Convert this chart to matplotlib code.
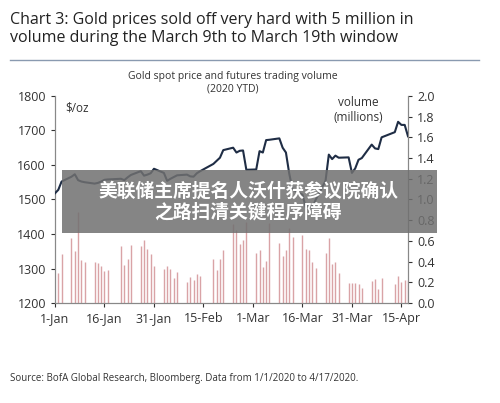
import matplotlib.pyplot as plt
import numpy as np
import pandas as pd

plt.rcParams['font.family'] = ['Open Sans', 'Noto Sans CJK SC', 'DejaVu Sans']

dates = ["01-02", "01-03", "01-06", "01-07", "01-08", "01-09", "01-10", "01-13", "01-14", "01-15",
         "01-16", "01-17", "01-21", "01-22", "01-23", "01-24", "01-27", "01-28", "01-29", "01-30",
         "01-31", "02-03", "02-04", "02-05", "02-06", "02-07", "02-10", "02-11", "02-12", "02-13",
         "02-14", "02-18", "02-19", "02-20", "02-21", "02-24", "02-25", "02-26", "02-27", "02-28",
         "03-02", "03-03", "03-04", "03-05", "03-06", "03-09", "03-10", "03-11", "03-12", "03-13",
         "03-16", "03-17", "03-18", "03-19", "03-20", "03-23", "03-24", "03-25", "03-26", "03-27",
         "03-30", "03-31", "04-01", "04-02", "04-03", "04-06", "04-07", "04-08", "04-09", "04-13",
         "04-14", "04-15", "04-16", "04-17"]
volume = [0.29, 0.47, 0.63, 0.50, 0.88, 0.42, 0.40, 0.40, 0.39, 0.36,
          0.31, 0.32, 0.55, 0.37, 0.43, 0.56, 0.55, 0.61, 0.52, 0.47,
          0.36, 0.33, 0.36, 0.33, 0.24, 0.30, 0.20, 0.25, 0.22, 0.28,
          0.26, 0.43, 0.32, 0.43, 0.51, 0.76, 0.71, 0.57, 0.61, 0.78,
          0.48, 0.51, 0.35, 0.41, 0.77, 0.58, 0.45, 0.51, 0.72, 0.64,
          0.66, 0.52, 0.51, 0.40, 0.34, 0.48, 0.63, 0.38, 0.40, 0.29,
          0.19, 0.19, 0.19, 0.18, 0.15, 0.21, 0.23, 0.14, 0.24, 0.18,
          0.26, 0.20, 0.22, 0.22]

price_dates = ["01-01"] + dates
price = [1518, 1528, 1552, 1566, 1573, 1556, 1552, 1550, 1546, 1548, 1552,
         1557, 1558, 1560, 1556, 1564, 1571, 1582, 1569, 1572, 1576,
         1589, 1577, 1554, 1560, 1565, 1570, 1572, 1567, 1566, 1576,
         1582, 1603, 1612, 1621, 1643, 1650, 1636, 1641, 1642, 1586,
         1587, 1640, 1636, 1672, 1673, 1677, 1650, 1636, 1575, 1529,
         1514, 1478, 1487, 1475, 1499, 1554, 1630, 1617, 1627, 1621,
         1622, 1577, 1590, 1615, 1620, 1659, 1648, 1646, 1680, 1695,
         1725, 1716, 1716, 1683]

start = pd.Timestamp("2020-01-01")
vday = [(pd.Timestamp("2020-" + d) - start).days for d in dates]
pday = [(pd.Timestamp("2020-" + d) - start).days for d in price_dates]
tick_days = [0, 15, 30, 45, 60, 75, 90, 105]
tick_labels = ["1-Jan", "16-Jan", "31-Jan", "15-Feb", "1-Mar", "16-Mar", "31-Mar", "15-Apr"]

fig = plt.figure(figsize=(5, 4.03), dpi=100)
ax = fig.add_axes([0.11, 0.248, 0.706, 0.514])
ax2 = ax.twinx()
ax2.vlines(vday, 0, volume, color='#d9a3a6', lw=1.0)
ax.plot(pday, price, color='#1f2d45', lw=1.5, zorder=3)
ax.set_zorder(ax2.get_zorder() + 1)
ax.patch.set_visible(False)

ax.set_xlim(0, 107)
ax.set_ylim(1200, 1800)
ax2.set_ylim(0, 2.0)
ax.set_yticks(range(1200, 1801, 100))
ax2.set_yticks(np.arange(0, 2.01, 0.2))
ax2.set_yticklabels([f"{v:.1f}" for v in np.arange(0, 2.01, 0.2)])
ax.set_xticks(tick_days)
ax.set_xticklabels(tick_labels)
for a in (ax, ax2):
    a.spines['top'].set_visible(False)
    a.tick_params(labelsize=9, colors='#333333', length=3)
    for s in ('left', 'right', 'bottom'):
        a.spines[s].set_color('#888888')

ax.text(3, 1785, "$/oz", fontsize=8.5, color='#333333', va='top')
ax.text(92, 1800, "volume\n(millions)", fontsize=8.5, color='#333333', ha='center', va='top')
fig.text(0.465, 0.795, "Gold spot price and futures trading volume\n(2020 YTD)", fontsize=7.5,
         ha='center', va='center', color='#333333', linespacing=1.2)

fig.text(0.02, 0.928, "Chart 3: Gold prices sold off very hard with 5 million in\nvolume during the March 9th to March 19th window",
         fontsize=11.5, color='#222222', va='center', linespacing=1.1)
fig.add_artist(plt.Line2D([0.02, 0.958], [0.85, 0.85], color='#8a9ab0', lw=1))
fig.text(0.02, 0.062, "Source: BofA Global Research, Bloomberg. Data from 1/1/2020 to 4/17/2020.",
         fontsize=7, color='#333333', va='center')

fig.patches.append(plt.Rectangle((0.124, 0.422), 0.75, 0.157, transform=fig.transFigure,
                                 facecolor='#707070', alpha=0.85, zorder=10))
fig.text(0.496, 0.5, "美联储主席提名人沃什获参议院确认\n之路扫清关键程序障碍", fontsize=13.5, fontweight='bold',
         color='white', ha='center', va='center', zorder=11, linespacing=1.1,
         family=['Noto Sans CJK SC', 'DejaVu Sans'])

fig.savefig("out.png", dpi=100)
